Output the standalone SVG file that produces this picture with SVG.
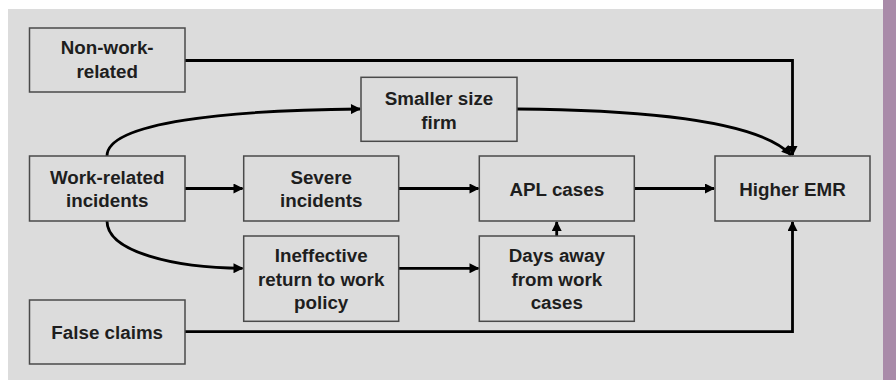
<svg xmlns="http://www.w3.org/2000/svg" width="896" height="380" viewBox="0 0 896 380">
<style>
.box{fill:#dcdcdc;stroke:#4a4a4a;stroke-width:1.5}
.t{font-family:"Liberation Sans",Arial,sans-serif;font-weight:bold;font-size:18.8px;fill:#1e1e1e;text-anchor:middle}
.c{fill:none;stroke:#000;stroke-width:2.8}
</style>
<defs>
<marker id="ah" viewBox="0 0 10 10" refX="9" refY="5" markerWidth="11" markerHeight="10" markerUnits="userSpaceOnUse" orient="auto">
<path d="M0,0 L10,5 L0,10 z" fill="#000"/>
</marker>
</defs>
<rect x="0" y="0" width="896" height="380" fill="#ffffff"/>
<rect x="8" y="9" width="875" height="371" fill="#dcdcdc"/>
<rect x="883" y="0" width="13" height="380" fill="#a98ba9"/>

<g id="connectors">
<path class="c" d="M185,60.5 H792.5 V155" marker-end="url(#ah)"/>
<path class="c" d="M107,156 C107,122 230,110 360,109" marker-end="url(#ah)"/>
<path class="c" d="M517,109 C650,110 760,122 791,155" marker-end="url(#ah)"/>
<path class="c" d="M185,188.5 H242.5" marker-end="url(#ah)"/>
<path class="c" d="M398.7,188.5 H478.5" marker-end="url(#ah)"/>
<path class="c" d="M634.3,188.5 H714" marker-end="url(#ah)"/>
<path class="c" d="M107,221 C107,252 175,268 242.5,268.3" marker-end="url(#ah)"/>
<path class="c" d="M398.7,268.3 H478.5" marker-end="url(#ah)"/>
<path class="c" d="M556.7,236 V222" marker-end="url(#ah)"/>
<path class="c" d="M185,331.7 H792.5 V222" marker-end="url(#ah)"/>
</g>

<g id="non-work-related">
<rect class="box" x="29.5" y="28" width="155.5" height="64"/>
<text class="t" x="107.2" y="54">Non-work-</text>
<text class="t" x="107.2" y="77.5">related</text>
</g>
<g id="work-related-incidents">
<rect class="box" x="29.5" y="156" width="155.5" height="65"/>
<text class="t" x="107.2" y="183.5">Work-related</text>
<text class="t" x="107.2" y="207">incidents</text>
</g>
<g id="false-claims">
<rect class="box" x="29.5" y="300" width="155.5" height="64"/>
<text class="t" x="107.2" y="338.5">False claims</text>
</g>
<g id="smaller-size-firm">
<rect class="box" x="361" y="77.3" width="156" height="64"/>
<text class="t" x="439" y="105">Smaller size</text>
<text class="t" x="439" y="128.5">firm</text>
</g>
<g id="severe-incidents">
<rect class="box" x="243.7" y="156" width="155" height="65"/>
<text class="t" x="321.2" y="183.5">Severe</text>
<text class="t" x="321.2" y="207">incidents</text>
</g>
<g id="apl-cases">
<rect class="box" x="479.3" y="156" width="155" height="65"/>
<text class="t" x="556.8" y="195.5">APL cases</text>
</g>
<g id="higher-emr">
<rect class="box" x="715" y="156" width="155" height="65"/>
<text class="t" x="792.5" y="195.5">Higher EMR</text>
</g>
<g id="ineffective-return">
<rect class="box" x="243.7" y="236" width="155" height="85.3"/>
<text class="t" x="321.2" y="262">Ineffective</text>
<text class="t" x="321.2" y="285.5">return to work</text>
<text class="t" x="321.2" y="309">policy</text>
</g>
<g id="days-away">
<rect class="box" x="479.3" y="236" width="155" height="85.3"/>
<text class="t" x="556.8" y="262">Days away</text>
<text class="t" x="556.8" y="285.5">from work</text>
<text class="t" x="556.8" y="309">cases</text>
</g>
</svg>
